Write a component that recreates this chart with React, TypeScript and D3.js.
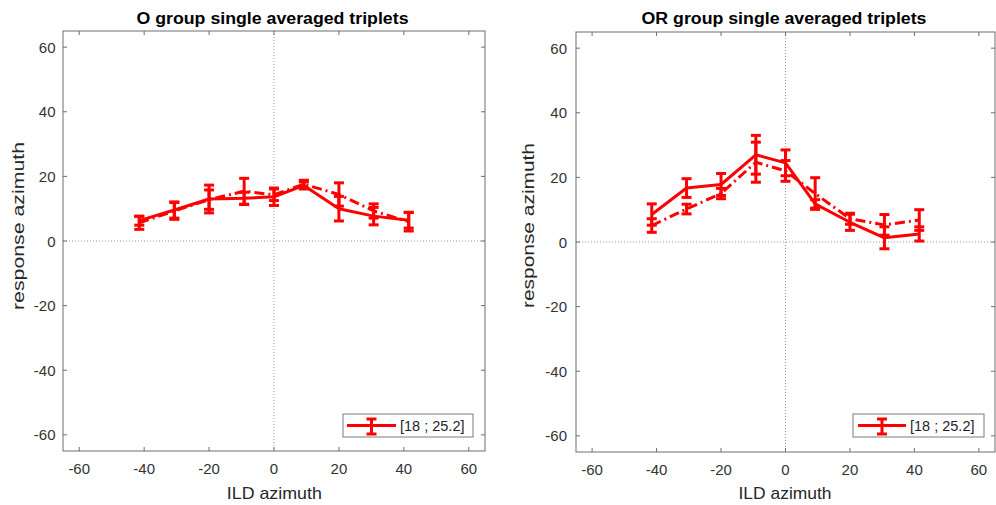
import React from 'react';
import * as d3 from 'd3';

// ILD azimuths (degrees) shared by both groups
const azimuths = [-41.5, -30.7, -20, -9.2, 0, 9.2, 20, 30.7, 41.5];

// O group: solid series and dash-dot series (mean, half error)
const oSolidMean = [6.3, 9.6, 13.0, 13.2, 13.7, 17.2, 10.0, 7.7, 6.4];
const oSolidErr = [1.4, 2.5, 4.3, 1.9, 2.7, 1.1, 3.8, 2.7, 2.4];
const oDashMean = [5.6, 9.3, 12.8, 15.4, 14.3, 17.6, 14.4, 9.3, 6.0];
const oDashErr = [2.0, 2.6, 3.0, 4.0, 1.8, 1.2, 3.6, 2.2, 2.9];

// OR group
const orSolidMean = [8.5, 16.7, 17.8, 27.0, 24.5, 11.8, 6.1, 1.3, 2.5];
const orSolidErr = [3.3, 2.9, 3.4, 6.0, 4.0, 1.3, 2.5, 3.4, 2.2];
const orDashMean = [5.1, 10.2, 15.0, 24.7, 22.0, 15.0, 7.2, 5.3, 6.8];
const orDashErr = [2.1, 1.5, 1.6, 6.2, 3.2, 4.9, 1.7, 3.2, 3.2];

const axisTicks = [-60, -40, -20, 0, 20, 40, 60];
const legendLabel = '[18 ; 25.2]';
const titles = ['O group single averaged triplets', 'OR group single averaged triplets'];
const xLabel = 'ILD azimuth';
const yLabel = 'response azimuth';

const FONT = "'Liberation Sans', Arial, Helvetica, sans-serif";
const RED = '#ff0000';
const AXIS = '#6e6e6e';
const TICKTEXT = '#333333';

type Box = { x0: number; x1: number; y0: number; y1: number };

type PanelProps = {
  box: Box;
  title: string;
  titleX: number;
  titleLen: number;
  xLabelX: number;
  xLabelLen: number;
  yLabelX: number;
  yLabelY: number;
  yLabelLen: number;
  yTickRight: number;
  solidMean: number[];
  solidErr: number[];
  dashMean: number[];
  dashErr: number[];
  legend: { x0: number; x1: number; y0: number; y1: number; lineX0: number; lineX1: number; textX: number };
};

function ErrorBars({ x, y, mean, err, dash }: { x: d3.ScaleLinear<number, number>; y: d3.ScaleLinear<number, number>; mean: number[]; err: number[]; dash?: string }) {
  const line = d3
    .line<number>()
    .x((_, i) => x(azimuths[i]))
    .y((d) => y(d));
  const cap = 5;
  return (
    <g>
      <path d={line(mean) || ''} fill="none" stroke={RED} strokeWidth={3} strokeDasharray={dash} strokeLinejoin="round" />
      {mean.map((m, i) => {
        const cx = x(azimuths[i]);
        const top = y(m + err[i]);
        const bot = y(m - err[i]);
        return (
          <g key={i} stroke={RED} strokeWidth={3}>
            <line x1={cx} x2={cx} y1={top} y2={bot} />
            <line x1={cx - cap} x2={cx + cap} y1={top} y2={top} />
            <line x1={cx - cap} x2={cx + cap} y1={bot} y2={bot} />
          </g>
        );
      })}
    </g>
  );
}

function Panel(p: PanelProps) {
  const { box } = p;
  const x = d3.scaleLinear().domain([-65, 65]).range([box.x0, box.x1]);
  const y = d3.scaleLinear().domain([-65, 65]).range([box.y1, box.y0]);
  const tl = 4;
  const lg = p.legend;
  const lgMid = (lg.y0 + lg.y1) / 2;
  const lgBar = (lg.lineX0 + lg.lineX1) / 2;
  return (
    <g>
      {/* zero reference lines */}
      <line x1={x(0)} x2={x(0)} y1={box.y0} y2={box.y1} stroke="#9a9a9a" strokeWidth={1} strokeDasharray="1,2" />
      <line x1={box.x0} x2={box.x1} y1={y(0)} y2={y(0)} stroke="#9a9a9a" strokeWidth={1} strokeDasharray="1,2" />

      {/* series */}
      <ErrorBars x={x} y={y} mean={p.dashMean} err={p.dashErr} dash="10,4,2,4" />
      <ErrorBars x={x} y={y} mean={p.solidMean} err={p.solidErr} />

      {/* axes box and ticks */}
      <rect x={box.x0} y={box.y0} width={box.x1 - box.x0} height={box.y1 - box.y0} fill="none" stroke={AXIS} strokeWidth={1} />
      {axisTicks.map((t) => (
        <g key={'x' + t} stroke={AXIS} strokeWidth={1}>
          <line x1={x(t)} x2={x(t)} y1={box.y1} y2={box.y1 - tl} />
          <line x1={x(t)} x2={x(t)} y1={box.y0} y2={box.y0 + tl} />
        </g>
      ))}
      {axisTicks.map((t) => (
        <g key={'y' + t} stroke={AXIS} strokeWidth={1}>
          <line x1={box.x0} x2={box.x0 + tl} y1={y(t)} y2={y(t)} />
          <line x1={box.x1} x2={box.x1 - tl} y1={y(t)} y2={y(t)} />
        </g>
      ))}
      {axisTicks.map((t) => (
        <text key={'xl' + t} x={x(t)} y={box.y1 + 23} textAnchor="middle" fontSize={15} fill={TICKTEXT} fontFamily={FONT}>
          {t}
        </text>
      ))}
      {axisTicks.map((t) => (
        <text key={'yl' + t} x={p.yTickRight} y={y(t) + 5.5} textAnchor="end" fontSize={15} fill={TICKTEXT} fontFamily={FONT}>
          {t}
        </text>
      ))}

      {/* labels */}
      <text x={p.titleX} y={23.5} textAnchor="middle" fontSize={16} fontWeight="bold" fill="#000" fontFamily={FONT} textLength={p.titleLen} lengthAdjust="spacingAndGlyphs">
        {p.title}
      </text>
      <text x={p.xLabelX} y={499} textAnchor="middle" fontSize={17} fill="#262626" fontFamily={FONT} textLength={p.xLabelLen} lengthAdjust="spacingAndGlyphs">
        {xLabel}
      </text>
      <text transform={`translate(${p.yLabelX},${p.yLabelY}) rotate(-90)`} textAnchor="middle" fontSize={16} fill="#262626" fontFamily={FONT} textLength={p.yLabelLen} lengthAdjust="spacingAndGlyphs">
        {yLabel}
      </text>

      {/* legend */}
      <rect x={lg.x0} y={lg.y0} width={lg.x1 - lg.x0} height={lg.y1 - lg.y0} fill="#fff" stroke="#7a7a7a" strokeWidth={1} />
      <g stroke={RED} strokeWidth={3}>
        <line x1={lg.lineX0} x2={lg.lineX1} y1={lgMid} y2={lgMid} />
        <line x1={lgBar} x2={lgBar} y1={lg.y0 + 5} y2={lg.y1 - 3} />
        <line x1={lgBar - 5} x2={lgBar + 5} y1={lg.y0 + 5} y2={lg.y0 + 5} />
        <line x1={lgBar - 5} x2={lgBar + 5} y1={lg.y1 - 3} y2={lg.y1 - 3} />
      </g>
      <text x={lg.textX} y={lgMid + 5} fontSize={14.5} fill="#1e1e2e" fontFamily={FONT}>
        {legendLabel}
      </text>
    </g>
  );
}

export default function App() {
  return (
    <svg width={996} height={505} style={{ position: 'absolute', left: 0, top: 0, background: '#fff' }}>
      <rect x={0} y={0} width={996} height={505} fill="#fff" />
      <Panel
        box={{ x0: 63, x1: 485, y0: 31, y1: 451 }}
        title={titles[0]}
        titleX={272.5}
        titleLen={272}
        xLabelX={274.3}
        xLabelLen={95}
        yLabelX={23.5}
        yLabelY={226}
        yLabelLen={168}
        yTickRight={55.5}
        solidMean={oSolidMean}
        solidErr={oSolidErr}
        dashMean={oDashMean}
        dashErr={oDashErr}
        legend={{ x0: 343, x1: 473, y0: 414, y1: 437, lineX0: 347, lineX1: 396, textX: 400 }}
      />
      <Panel
        box={{ x0: 576, x1: 995, y0: 32, y1: 452 }}
        title={titles[1]}
        titleX={784}
        titleLen={285}
        xLabelX={785}
        xLabelLen={93}
        yLabelX={533.5}
        yLabelY={225.5}
        yLabelLen={165}
        yTickRight={567}
        solidMean={orSolidMean}
        solidErr={orSolidErr}
        dashMean={orDashMean}
        dashErr={orDashErr}
        legend={{ x0: 853, x1: 984, y0: 414, y1: 437, lineX0: 858, lineX1: 906, textX: 910 }}
      />
    </svg>
  );
}
